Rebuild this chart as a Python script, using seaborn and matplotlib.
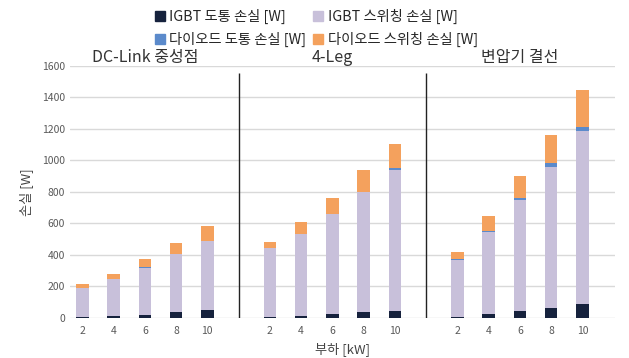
import numpy as np
import seaborn as sns
import matplotlib.pyplot as plt

groups = ["DC-Link 중성점", "4-Leg", "변압기 결선"]
loads = ["2", "4", "6", "8", "10"]
series = ["IGBT 도통 손실 [W]", "IGBT 스위칭 손실 [W]",
          "다이오드 도통 손실 [W]", "다이오드 스위칭 손실 [W]"]

igbt_cond = [5, 12, 21, 36, 47,
             5, 15, 24, 36, 45,
             7, 23, 45, 64, 87]
igbt_sw = [185, 232, 297, 368, 438,
           437, 514, 632, 762, 895,
           362, 520, 705, 891, 1098]
diode_cond = [2, 1, 2, 2, 2,
              2, 2, 2, 2, 8,
              3, 5, 12, 28, 25]
diode_sw = [22, 34, 56, 72, 95,
            36, 74, 100, 136, 157,
            48, 98, 138, 179, 232]

colors = ["#16223d", "#c8c0da", "#5b8acb", "#f4a15d"]

sns.set_style("white")
plt.rcParams["font.family"] = ["Noto Sans CJK KR", "DejaVu Sans"]

# bar positions: 5 loads per group, one empty slot between groups
pos = np.concatenate([np.arange(5) + 6 * g for g in range(3)]).astype(float)

fig = plt.figure(figsize=(6.29, 3.58), dpi=100)
ax = fig.add_axes([0.111, 0.112, 0.867, 0.705])

bottom = np.zeros(len(pos))
handles = []
for name, vals, c in zip(series, [igbt_cond, igbt_sw, diode_cond, diode_sw], colors):
    vals = np.array(vals, dtype=float)
    sns.barplot(x=pos, y=vals, bottom=bottom, color=c, width=0.4,
                native_scale=True, ax=ax, linewidth=0, saturation=1)
    handles.append(plt.Rectangle((0, 0), 1, 1, color=c, label=name))
    bottom = bottom + vals

ax.set_xlim(-0.4, 17.05)
ax.set_ylim(0, 1600)
ax.set_yticks(range(0, 1601, 200))
ax.yaxis.grid(True, color="#d9d9d9", linewidth=1)
ax.set_axisbelow(True)
sns.despine(ax=ax, left=True, bottom=True)

ax.set_xticks(pos)
ax.set_xticklabels(loads * 3)
ax.tick_params(axis="both", length=0, labelsize=7.5, colors="#595959")
ax.tick_params(axis="x", pad=6)

for sep in [5, 11]:
    ax.vlines(sep, 0, 1550, color="#222222", linewidth=1)

for g, name in enumerate(groups):
    ax.text(6 * g + 2.0, 1598, name, ha="center", va="bottom", fontsize=11.5, color="#333333")

ax.set_xlabel("부하 [kW]", fontsize=9.5, color="#444444", labelpad=4)
ax.set_ylabel("손실 [W]", fontsize=9.5, color="#444444", labelpad=6)

order = [handles[0], handles[2], handles[1], handles[3]]
fig.legend(handles=order, loc="upper center", bbox_to_anchor=(0.503, 1.01), ncol=2,
           frameon=False, fontsize=10.3, handlelength=0.7, handleheight=0.7,
           handletextpad=0.3, columnspacing=0.5, labelspacing=0.5)

fig.savefig("out.png", dpi=100)
